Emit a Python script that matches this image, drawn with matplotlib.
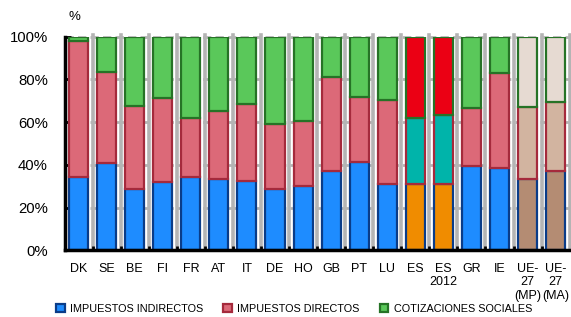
import matplotlib
matplotlib.use("Agg")
import matplotlib.pyplot as plt
from matplotlib.patches import Patch
from matplotlib import font_manager
import numpy as np

categories = ["DK", "SE", "BE", "FI", "FR", "AT", "IT", "DE", "HO", "GB", "PT", "LU",
              "ES", "ES\n2012", "GR", "IE", "UE-\n27\n(MP)", "UE-\n27\n(MA)"]
indirectos = [34.5, 41.0, 28.7, 31.8, 34.5, 33.5, 32.6, 28.7, 30.2, 37.1, 41.2, 31.2,
              31.2, 31.2, 39.6, 38.7, 33.5, 37.1]
directos_top = [98.1, 83.6, 67.6, 71.2, 61.8, 65.2, 68.3, 59.1, 60.7, 81.0, 71.6, 70.2,
                61.8, 63.3, 66.8, 83.1, 66.9, 69.6]
total = [100.0] * len(categories)
directos = [t - i for t, i in zip(directos_top, indirectos)]
cotizaciones = [T - t for T, t in zip(total, directos_top)]
ytick_labels = ["0%", "20%", "40%", "60%", "80%", "100%"]
legend_labels = ["IMPUESTOS INDIRECTOS", "IMPUESTOS DIRECTOS", "COTIZACIONES SOCIALES"]

base_face = ["#1E8CFF", "#DC6978", "#5AC85A"]
base_edge = ["#0A3C88", "#A52A3C", "#267326"]
es_face = ["#F08C00", "#00B4AA", "#EB0014"]
ue_face = ["#B48C73", "#D2B4A0", "#E6DAD2"]

def face(series, i):
    c = categories[i]
    if c.startswith("ES"):
        return es_face[series]
    if c.startswith("UE"):
        return ue_face[series]
    return base_face[series]

names = {f.name for f in font_manager.fontManager.ttflist}
main_font = "Liberation Sans" if "Liberation Sans" in names else "DejaVu Sans"
plt.rcParams["font.family"] = [main_font, "DejaVu Sans"]

fig = plt.figure(figsize=(5.71, 3.17), dpi=100)
ax = fig.add_axes([0.113, 0.2104, 0.8847, 0.6738])

x = np.arange(len(categories))
w = 0.68
series = [indirectos, directos, cotizaciones]
bottoms = [np.zeros(len(x)), np.array(indirectos), np.array(directos_top)]
for s in range(3):
    ax.bar(x, series[s], w, bottom=bottoms[s],
           color=[face(s, i) for i in range(len(x))],
           edgecolor=base_edge[s], linewidth=1.6, zorder=3)

ax.set_xlim(-0.5, len(x) - 0.5)
ax.set_ylim(0, 100)

# grid
for yv in [20, 40, 60, 80, 100]:
    ax.axhline(yv, color="#B4B4B4", lw=2, ls=(0, (3, 1.5)), zorder=1, clip_on=False)
for xv in np.arange(0.5, len(x), 1.0):
    ax.axvline(xv, color="#B4B4B4", lw=2.6, zorder=1, ymax=1.01, clip_on=False)

ax.set_yticks([0, 20, 40, 60, 80, 100])
ax.set_yticklabels(ytick_labels, fontsize=10.7)
ax.set_xticks(x)
ax.set_xticklabels(categories, fontsize=9, linespacing=1.15)
ax.set_xticks(np.arange(0.5, len(x) - 0.5, 1.0), minor=True)
ax.tick_params(axis="y", direction="in", length=4, width=2, color="black", pad=12)
ax.tick_params(axis="x", which="major", length=0, pad=9)
ax.tick_params(axis="x", which="minor", direction="in", length=3, width=2, color="black")

for sp in ["top", "right"]:
    ax.spines[sp].set_visible(False)
for sp in ["left", "bottom"]:
    ax.spines[sp].set_linewidth(2.5)
    ax.spines[sp].set_color("black")
    ax.spines[sp].set_zorder(5)

fig.text(0.130, 0.945, "%", fontsize=9.5, ha="center", va="center")

handles = [Patch(facecolor=base_face[s], edgecolor=base_edge[s], linewidth=1.6) for s in range(3)]
leg = fig.legend(handles, legend_labels, loc="center", bbox_to_anchor=(0.515, 0.025),
                 ncol=3, frameon=False, handlelength=0.8, handleheight=0.8,
                 handletextpad=0.5, columnspacing=1.85, borderpad=0.1,
                 prop={"size": 7.8})

fig.savefig("out.png", dpi=100)
